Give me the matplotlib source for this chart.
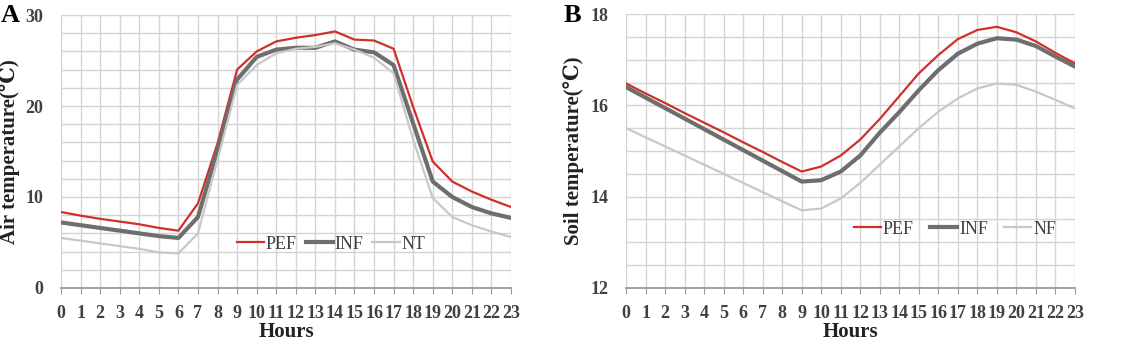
import numpy as np
import matplotlib
matplotlib.use("Agg")
import matplotlib.pyplot as plt

plt.rcParams['font.family'] = ['Liberation Serif', 'DejaVu Serif']

# hours of day
hours = list(range(24))

# panel A - air temperature
air_pef = [8.35, 7.95, 7.6, 7.3, 7.0, 6.6, 6.3, 9.3, 15.9, 24.0, 26.0, 27.1,
           27.5, 27.8, 28.2, 27.3, 27.2, 26.3, 19.9, 13.9, 11.7, 10.6, 9.7, 8.9]
air_inf = [7.2, 6.9, 6.6, 6.3, 6.0, 5.7, 5.5, 7.8, 15.2, 22.9, 25.4, 26.2,
           26.4, 26.4, 27.1, 26.2, 25.9, 24.5, 18.1, 11.7, 10.0, 8.9, 8.2, 7.7]
air_nt = [5.5, 5.2, 4.9, 4.6, 4.3, 3.9, 3.8, 6.0, 14.1, 22.3, 24.5, 25.8,
          26.3, 26.5, 26.9, 26.2, 25.3, 23.6, 16.3, 9.9, 7.8, 6.9, 6.2, 5.6]

# panel B - soil temperature
soil_pef = [16.48, 16.26, 16.05, 15.83, 15.62, 15.41, 15.19, 14.98, 14.76, 14.55,
            14.66, 14.9, 15.25, 15.7, 16.2, 16.7, 17.1, 17.45, 17.65, 17.72,
            17.6, 17.4, 17.15, 16.92]
soil_inf = [16.4, 16.17, 15.94, 15.71, 15.48, 15.25, 15.02, 14.79, 14.56, 14.33,
            14.36, 14.55, 14.9, 15.4, 15.85, 16.33, 16.77, 17.13, 17.35, 17.47,
            17.44, 17.3, 17.07, 16.85]
soil_nf = [15.5, 15.3, 15.1, 14.9, 14.7, 14.5, 14.3, 14.1, 13.9, 13.7,
           13.74, 13.96, 14.3, 14.7, 15.1, 15.5, 15.86, 16.15, 16.37, 16.48,
           16.45, 16.3, 16.12, 15.93]

red = '#d0302c'
dark = '#6e6e6e'
light = '#c8c8c8'
txt = '#404040'

fig = plt.figure(figsize=(11.22, 3.42), dpi=100)
axA = fig.add_axes([0.0544, 0.158, 0.401, 0.798])
axB = fig.add_axes([0.558, 0.158, 0.400, 0.801])


def style(ax, ymin, ymax, major, minor):
    ax.set_xlim(0, 23)
    ax.set_ylim(ymin, ymax)
    ax.set_xticks(hours)
    ax.set_yticks(np.arange(ymin, ymax + 0.01, major))
    ax.set_yticks(np.arange(ymin, ymax + 0.01, minor), minor=True)
    ax.grid(True, which='both', color='#d4d4d4', lw=1.0)
    ax.set_axisbelow(True)
    for s in ['top', 'right', 'left']:
        ax.spines[s].set_visible(False)
    ax.spines['bottom'].set_color('#9a9a9a')
    ax.spines['bottom'].set_linewidth(1.3)
    ax.tick_params(axis='x', length=4, color='#9a9a9a', colors=txt,
                   labelsize=13, pad=8)
    ax.tick_params(axis='y', which='both', length=0, colors=txt,
                   labelsize=13, pad=13)
    for lab in ax.get_xticklabels() + ax.get_yticklabels():
        lab.set_fontweight('bold')
    ax.set_xlabel('Hours', fontsize=15, fontweight='bold', color='#222222',
                  labelpad=0)


style(axA, 0, 30, 10, 2)
axA.plot(hours, air_pef, color=red, lw=1.6, label='PEF')
axA.plot(hours, air_inf, color=dark, lw=3.0, label='INF')
axA.plot(hours, air_nt, color=light, lw=1.6, label='NT')
axA.set_ylabel('Air temperature(℃)', fontsize=15, fontweight='bold',
               color='#222222', labelpad=4)
axA.legend(loc='center', bbox_to_anchor=(0.6, 0.161), ncol=3, frameon=False,
           fontsize=13, handlelength=1.5, handletextpad=0.1, columnspacing=0.5,
           labelcolor=txt)

style(axB, 12, 18, 2, 0.5)
axB.plot(hours, soil_pef, color=red, lw=1.6, label='PEF')
axB.plot(hours, soil_inf, color=dark, lw=3.0, label='INF')
axB.plot(hours, soil_nf, color=light, lw=1.6, label='NF')
axB.set_ylabel('Soil temperature(℃)', fontsize=15, fontweight='bold',
               color='#222222', labelpad=4)
axB.legend(loc='center', bbox_to_anchor=(0.733, 0.215), ncol=3, frameon=False,
           fontsize=13, handlelength=1.5, handletextpad=0.1, columnspacing=0.9,
           labelcolor=txt)

fig.text(0.001, 0.955, 'A', fontsize=19, fontweight='bold', va='center')
fig.text(0.502, 0.955, 'B', fontsize=19, fontweight='bold', va='center')

fig.savefig('out.png', dpi=100)
